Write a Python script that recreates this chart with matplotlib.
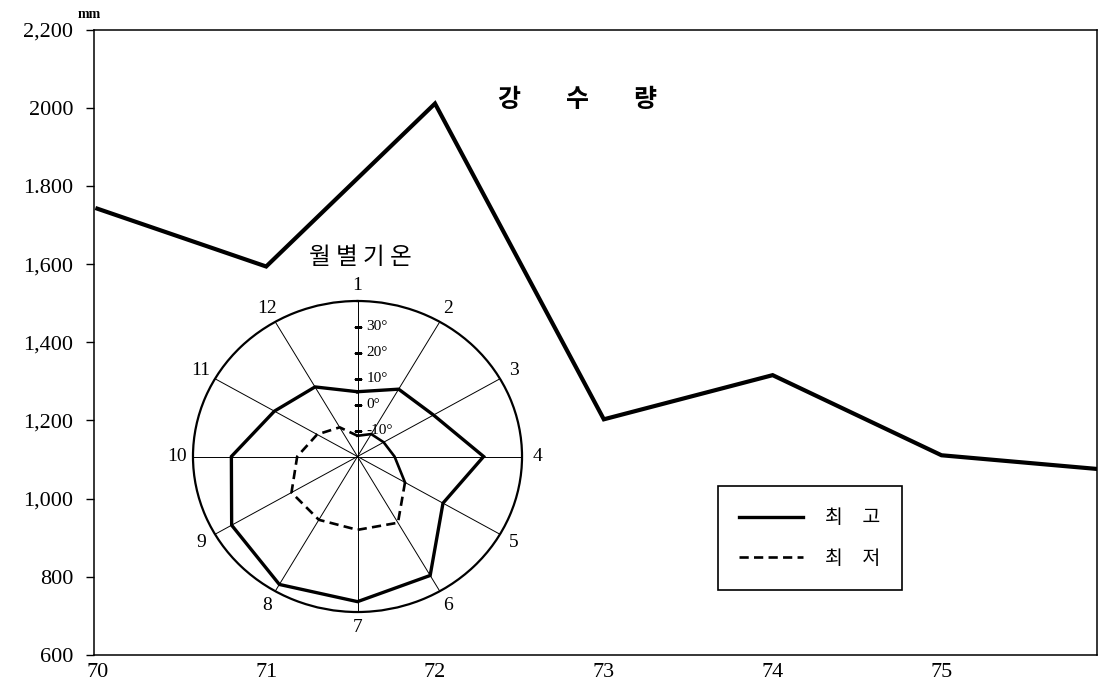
import numpy as np
import matplotlib
matplotlib.use('Agg')
import matplotlib.pyplot as plt

matplotlib.rcParams['font.family'] = ['Liberation Serif', 'Noto Sans CJK KR']
kr = 'Noto Sans CJK KR'

# annual rainfall (mm)
years = [70, 71, 72, 73, 74, 75, 76]
rain = [1742, 1594, 2011, 1203, 1316, 1111, 1073]
x_ticks = [70, 71, 72, 73, 74, 75]
y_ticks = [600, 800, 1000, 1200, 1400, 1600, 1800, 2000, 2200]
y_labels = ['600', '800', '1,000', '1,200', '1,400', '1,600', '1.800', '2000', '2,200']

# monthly temperature (deg C)
months = list(range(1, 13))
t_max = [5, 10, 12, 26, 16, 33, 36, 37, 33, 26, 15, 11]
t_min = [-12, -10, -9, -6.5, 0, 9.5, 8.3, 8.2, 7.8, 2, -3, -7]
r_ticks = [-10, 0, 10, 20, 30]
r_labels = ['-10°', '0°', '10°', '20°', '30°']

fig = plt.figure(figsize=(10.99, 6.95), dpi=100)

### rainfall
ax = fig.add_axes([0.0855, 0.0576, 0.9125, 0.8997])
ax.plot(years, rain, color='black', lw=3, solid_joinstyle='miter')
ax.set_xlim(69.98, 75.92)
ax.set_ylim(600, 2200)
ax.set_xticks(x_ticks)
ax.set_xticklabels([str(x) for x in x_ticks], fontsize=16)
ax.set_yticks(y_ticks)
ax.set_yticklabels(y_labels, fontsize=16)
ax.tick_params(axis='x', length=0, pad=6)
ax.tick_params(axis='y', direction='out', length=6, width=1, pad=9)
for s in ax.spines.values():
    s.set_linewidth(1.1)

fig.text(577/1099, 1-100/695, '강        수        량', fontsize=18, fontweight='bold',
         family=kr, ha='center', va='center')
fig.text(89/1099, 1-14/695, 'mm', fontsize=10, fontweight='bold', ha='center', va='center')

### monthly temperature inset
pax = fig.add_axes([0.1756, 0.1194, 0.2994, 0.4475], projection='polar')
pax.set_aspect('auto')
pax.set_theta_zero_location('N')
pax.set_theta_direction(-1)

th = np.deg2rad((np.array(months) - 1) * 30)
th_c = np.append(th, th[0])
tmax_c = np.append(t_max, t_max[0])
tmin_c = np.append(t_min, t_min[0])

lmax, = pax.plot(th_c, tmax_c, color='black', lw=2.4, solid_joinstyle='miter')
pax.plot(th_c[:5], tmin_c[:5], color='black', lw=1.9)
lmin, = pax.plot(th_c[4:], tmin_c[4:], color='black', lw=1.9, ls=(0, (3.5, 2)))

pax.set_ylim(-20, 40)
pax.set_thetagrids(np.arange(0, 360, 30), labels=[str(m) for m in months], fontsize=14)
pax.tick_params(axis='x', pad=1)
pax.xaxis.grid(True, color='black', lw=0.7)
pax.set_yticks([])
pax.spines['polar'].set_linewidth(1.6)

pax.plot(np.zeros(len(r_ticks)), r_ticks, ls='none', marker='_', ms=6, mew=0.8, color='black')
for r, lab in zip(r_ticks, r_labels):
    pax.annotate(lab, xy=(0, r), xytext=(6.5, 0), textcoords='offset points',
                 ha='left', va='center', fontsize=11)

fig.text(360/1099, 1-258/695, '월 별 기 온', fontsize=17, family=kr, ha='center', va='center')

leg = fig.legend([lmax, lmin], ['최\u3000고', '최\u3000저'], loc='upper left',
                 bbox_to_anchor=(718/1099, 1-486/695), borderaxespad=0,
                 prop={'family': kr, 'size': 14},
                 fancybox=False, edgecolor='black', framealpha=1,
                 handlelength=3.25, handletextpad=1.15, labelspacing=1.0, borderpad=1.1)
leg.get_frame().set_linewidth(1.2)

plt.savefig('out.png', dpi=100)
